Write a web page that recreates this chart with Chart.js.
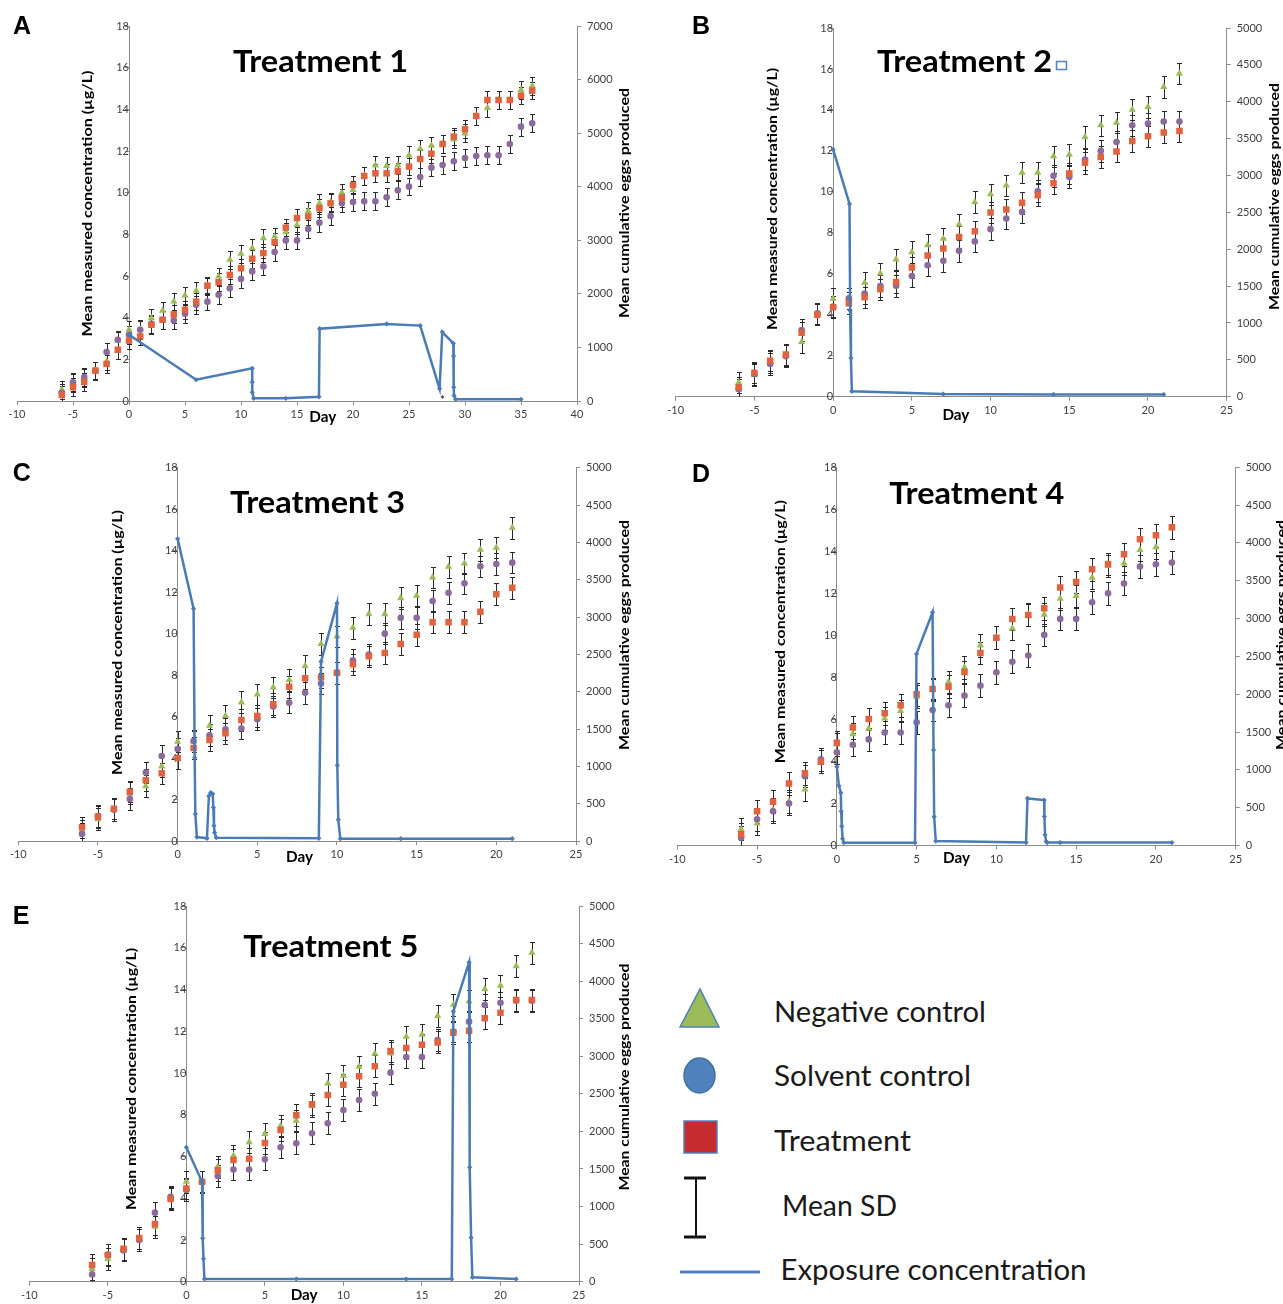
<!DOCTYPE html>
<html><head><meta charset="utf-8">
<script src="https://cdn.jsdelivr.net/npm/chart.js@4.4.1/dist/chart.umd.min.js"></script>
<style>
html,body{margin:0;padding:0;background:#fff;}
body{width:1283px;height:1304px;position:relative;overflow:hidden;font-family:Lato,sans-serif;}
.pan{position:absolute;}
#legend{position:absolute;left:640px;top:960px;}
</style></head>
<body>
<canvas id="cA" class="pan"></canvas>
<canvas id="cB" class="pan"></canvas>
<canvas id="cC" class="pan"></canvas>
<canvas id="cD" class="pan"></canvas>
<canvas id="cE" class="pan"></canvas>
<svg id="legend" width="643" height="344" xmlns="http://www.w3.org/2000/svg">
  <polygon points="40,67 60,29 79,67" fill="#9bbb59" stroke="#4f81bd" stroke-width="1.5"/>
  <ellipse cx="59.5" cy="115.5" rx="15.5" ry="17.5" fill="#4f81bd" stroke="#41719c" stroke-width="1.5"/>
  <rect x="44" y="161" width="33" height="32" fill="#c62b2f" stroke="#4f81bd" stroke-width="1.5"/>
  <line x1="56" y1="218" x2="56" y2="277" stroke="#111" stroke-width="2"/>
  <line x1="44" y1="218" x2="66" y2="218" stroke="#111" stroke-width="3"/>
  <line x1="44" y1="277" x2="66" y2="277" stroke="#111" stroke-width="3"/>
  <line x1="40" y1="312" x2="120" y2="312" stroke="#4f81bd" stroke-width="3"/>
  <g font-family="Lato" font-size="28" fill="#1a1a1a">
    <text x="134" y="62" textLength="212" lengthAdjust="spacingAndGlyphs">Negative control</text>
    <text x="134" y="126" textLength="197" lengthAdjust="spacingAndGlyphs">Solvent control</text>
    <text x="134" y="191" textLength="137" lengthAdjust="spacingAndGlyphs">Treatment</text>
    <text x="142" y="256" textLength="115" lengthAdjust="spacingAndGlyphs">Mean SD</text>
    <text x="140.5" y="320" textLength="306" lengthAdjust="spacingAndGlyphs">Exposure concentration</text>
  </g>
</svg>
<script>
// ---------------- DATA ----------------
const xTicksA = [-10,-5,0,5,10,15,20,25,30,35,40];
const xTicksBE = [-10,-5,0,5,10,15,20,25];

const daysA = [-6,-5,-4,-3,-2,-1,0,1,2,3,4,5,6,7,8,9,10,11,12,13,14,15,16,17,18,19,20,21,22,23,24,25,26,27,28,29,30,31,32,33,34,35,36];
const negA = [210,330,430,565,740,1130,1330,1340,1548,1688,1859,1972,2061,2139,2326,2637,2749,2855,3041,3072,3150,3286,3547,3690,3720,3889,3939,4200,4400,4387,4400,4586,4711,4767,4800,4885,4997,5320,5470,5620,5620,5806,5880];
const solA = [155,350,447,565,914,1143,1237,1330,1440,1517,1505,1630,1797,1855,1983,2104,2279,2419,2512,2781,2998,2998,3212,3329,3454,3690,3715,3727,3727,3802,3933,4001,4182,4356,4406,4474,4536,4574,4586,4586,4798,5121,5184];
const trtA = [113,257,354,568,692,957,1128,1206,1423,1517,1618,1703,1855,2154,2217,2353,2477,2656,2761,2963,3236,3415,3446,3597,3690,3790,4032,4200,4250,4250,4287,4375,4518,4617,4798,4935,5072,5320,5619,5619,5619,5700,5793];
const expDaysA = [0,6,11,11.0,11.01,11.13,14,16.96,17.02,23,26,27.73,27.97,28.96,28.98,29.0,29.02,29.16,35];
const expConcA = [3.18,1.02,1.57,0.9,0.42,0.13,0.13,0.2,3.47,3.70,3.62,0.59,3.31,2.77,2.16,0.66,0.26,0.08,0.08];
const sdA = 165;

const daysB = [-6,-5,-4,-3,-2,-1,0,1,2,3,4,5,6,7,8,9,10,11,12,13,14,15,16,17,18,19,20,21,22];
const negB = [194,294,472,556,744,1125,1328,1333,1545,1672,1861,1961,2056,2142,2336,2639,2746,2864,3040,3040,3261,3284,3523,3681,3717,3893,3930,4201,4381];
const solB = [100,306,444,550,903,1131,1222,1333,1400,1500,1503,1636,1783,1842,1978,2106,2272,2416,2507,2787,2995,2981,3216,3333,3455,3681,3704,3731,3731];
const trtB = [128,325,489,572,867,1111,1214,1269,1347,1456,1556,1753,1914,2011,2167,2244,2498,2538,2629,2733,2895,3026,3171,3252,3324,3469,3532,3582,3604];
const expDaysB = [0,1.04,1.08,1.13,1.19,7,14,21];
const expConcB = [12.07,9.41,4.2,1.89,0.26,0.13,0.11,0.11];
const sdB = 145;

const daysC = [-6,-5,-4,-3,-2,-1,0,1,2,3,4,5,6,7,8,9,10,11,12,13,14,15,16,17,18,19,20,21];
const negC = [139,292,417,639,736,1000,1331,1333,1545,1675,1858,1964,2058,2158,2345,2639,2741,2857,3040,3040,3254,3286,3531,3674,3719,3902,3929,4196];
const solC = [94,333,417,564,917,1139,1233,1339,1417,1497,1506,1631,1800,1853,1986,2108,2250,2420,2496,2777,2991,2991,3214,3326,3451,3679,3710,3728];
const trtC = [183,325,433,661,814,906,1111,1247,1353,1442,1622,1675,1831,2067,2181,2192,2254,2366,2473,2518,2638,2763,2929,2929,2929,3071,3304,3393];
const expDaysC = [0,1.0,1.07,1.11,1.21,1.84,1.96,2.07,2.2,2.24,2.28,2.32,2.42,8.86,9.0,10.0,10.02,10.08,10.21,14,21];
const expConcC = [14.57,11.2,4.02,1.3,0.19,0.13,2.17,2.33,2.27,1.62,0.74,0.4,0.16,0.13,8.65,11.46,3.65,1.03,0.11,0.11,0.11];
const sdC = 145;

const daysD = [-6,-5,-4,-3,-2,-1,0,1,2,3,4,5,6,7,8,9,10,11,12,13,14,15,16,17,18,19,20,21];
const negD = [217,292,472,583,742,1111,1336,1472,1544,1681,1778,1967,2056,2162,2356,2647,2750,2871,3050,3053,3264,3300,3542,3696,3731,3907,3943,4200];
const solD = [103,347,453,556,917,1139,1233,1331,1403,1494,1494,1629,1791,1854,1981,2113,2290,2430,2511,2784,2996,2996,3216,3335,3463,3687,3718,3740];
const trtD = [150,453,578,819,956,1106,1358,1561,1672,1747,1853,1999,2069,2099,2294,2545,2747,2994,3048,3137,3410,3485,3652,3722,3850,4048,4101,4207];
const expDaysD = [0,0.13,0.25,0.27,0.31,0.36,0.44,4.9,4.99,6.0,6.06,6.1,6.2,11.86,11.95,12.99,13.01,13.05,13.12,13.18,14,21];
const expConcD = [3.75,2.84,2.51,1.63,0.92,0.32,0.13,0.13,9.11,11.1,4.54,1.37,0.21,0.14,2.24,2.16,1.38,0.51,0.19,0.14,0.14,0.14];
const sdD = 150;

const daysE = [-6,-5,-4,-3,-2,-1,0,1,2,3,4,5,6,7,8,9,10,11,12,13,14,15,16,17,18,19,20,21,22];
const negE = [170,303,417,556,733,1111,1331,1333,1531,1678,1858,1967,2072,2144,2339,2639,2742,2862,3035,3039,3261,3288,3536,3687,3731,3895,3940,4201,4379];
const solE = [97,361,417,556,919,1131,1222,1333,1406,1494,1494,1628,1789,1842,1975,2108,2285,2418,2502,2782,2990,2990,3216,3330,3461,3682,3713,3740,3740];
const trtE = [222,356,439,581,767,1100,1239,1331,1483,1619,1636,1847,2019,2214,2361,2486,2622,2733,2866,3070,3110,3154,3185,3314,3341,3505,3580,3749,3749];
const expDaysE = [0,1.0,1.04,1.09,1.15,7,14,16.9,17.0,18.0,18.04,18.13,18.21,21];
const expConcE = [6.44,4.79,2.08,1.1,0.13,0.13,0.13,0.13,12.95,15.3,5.48,2.11,0.21,0.13];
const sdE = 145;

const concTicks = [0,2,4,6,8,10,12,14,16,18];
const eggTicksA = [0,1000,2000,3000,4000,5000,6000,7000];
const eggTicksBE = [0,500,1000,1500,2000,2500,3000,3500,4000,4500,5000];

const leftTitle = 'Mean measured concentration (\u00b5g/L)';
const rightTitle = 'Mean cumulative eggs produced';

// ---------------- LAYOUT ----------------
const panels = [
  {id:'cA', left:0, top:0, w:640, h:430, ca:{l:17,t:26,r:577,b:401}, xt:xTicksA, et:eggTicksA,
   days:daysA, neg:negA, sol:solA, trt:trtA, ex:expDaysA, ey:expConcA, sd:sdA,
   letter:'A', lx:13, ly:34, title:'Treatment 1', tx:233, ty:72,
   ltx:87, lty:203.5, ltl:266, rtx:624, rty:203, rtl:230, dayX:17.3, dayY:417, star:true},
  {id:'cB', left:640, top:0, w:643, h:430, ca:{l:35.7,t:28,r:586.7,b:396.7}, xt:xTicksBE, et:eggTicksBE,
   days:daysB, neg:negB, sol:solB, trt:trtB, ex:expDaysB, ey:expConcB, sd:sdB,
   letter:'B', lx:692, ly:34.3, title:'Treatment 2', tx:877, ty:71.7,
   ltx:772.3, lty:199, ltl:262, rtx:1274, rty:196.5, rtl:227, dayX:7.8, dayY:415, box:true},
  {id:'cC', left:0, top:430, w:640, h:440, ca:{l:18.3,t:37.7,r:576,b:411}, xt:xTicksBE, et:eggTicksBE,
   days:daysC, neg:negC, sol:solC, trt:trtC, ex:expDaysC, ey:expConcC, sd:sdC,
   letter:'C', lx:12.7, ly:481, title:'Treatment 3', tx:230, ty:512.7,
   ltx:117, lty:642.5, ltl:265, rtx:624, rty:635, rtl:230, dayX:7.65, dayY:856.7},
  {id:'cD', left:640, top:430, w:643, h:440, ca:{l:37.3,t:37.3,r:595.7,b:415.5}, xt:xTicksBE, et:eggTicksBE,
   days:daysD, neg:negD, sol:solD, trt:trtD, ex:expDaysD, ey:expConcD, sd:sdD,
   letter:'D', lx:692, ly:481.7, title:'Treatment 4', tx:889.3, ty:504,
   ltx:780.3, lty:631.7, ltl:263, rtx:1281, rty:635, rtl:230, dayX:7.5, dayY:858},
  {id:'cE', left:0, top:870, w:640, h:434, ca:{l:29.3,t:36,r:579,b:411.7}, xt:xTicksBE, et:eggTicksBE,
   days:daysE, neg:negE, sol:solE, trt:trtE, ex:expDaysE, ey:expConcE, sd:sdE,
   letter:'E', lx:12.7, ly:924, title:'Treatment 5', tx:243.3, ty:956.7,
   ltx:131.7, lty:1079, ltl:262, rtx:624, rty:1077, rtl:227, dayX:7.5, dayY:1295}
];

const AXIS = '#8c8c8c', TICK = '#404040';
const tickFont = {family:'Lato', size:11};

function fitText(ctx, text, x, y, width, font, align, baseline, rot) {
  ctx.save();
  ctx.font = font;
  const w = ctx.measureText(text).width;
  ctx.translate(x, y);
  if (rot) ctx.rotate(rot);
  ctx.scale(width / w, 1);
  ctx.textAlign = align;
  ctx.textBaseline = baseline;
  ctx.fillStyle = '#000';
  ctx.fillText(text, 0, 0);
  ctx.restore();
}

const errorBars = {
  id:'errorBars',
  beforeDatasetsDraw(chart) {
    const ctx = chart.ctx, xs = chart.scales.x, ys = chart.scales.y2, ca = chart.chartArea;
    ctx.save();
    ctx.beginPath();
    ctx.rect(ca.left, ca.top - 5, ca.right - ca.left, ca.bottom - ca.top + 5);
    ctx.clip();
    ctx.strokeStyle = '#2a2a2a';
    ctx.lineWidth = 1;
    chart.data.datasets.forEach(ds => {
      if (!ds.errorBar) return;
      ds.data.forEach(pt => {
        const px = Math.round(xs.getPixelForValue(pt.x)) + 0.5;
        const yt = Math.round(ys.getPixelForValue(pt.y + ds.errorBar)) + 0.5;
        const yb = Math.round(ys.getPixelForValue(pt.y - ds.errorBar)) + 0.5;
        ctx.beginPath();
        ctx.moveTo(px, yt); ctx.lineTo(px, yb);
        ctx.moveTo(px - 2.5, yt); ctx.lineTo(px + 2.5, yt);
        ctx.moveTo(px - 2.5, yb); ctx.lineTo(px + 2.5, yb);
        ctx.stroke();
      });
    });
    ctx.restore();
  }
};

const texts = {
  id:'texts',
  afterDraw(chart) {
    const p = chart.options.plugins.texts.panel;
    const ctx = chart.ctx, ox = p.left, oy = p.top;
    ctx.save();
    ctx.font = 'bold 25px "Liberation Sans", Arial, sans-serif';
    ctx.fillStyle = '#000';
    ctx.textBaseline = 'alphabetic';
    ctx.fillText(p.letter, p.lx - ox, p.ly - oy);
    ctx.restore();
    fitText(ctx, p.title, p.tx - ox, p.ty - oy, 175, 'bold 31px Lato', 'left', 'alphabetic', 0);
    fitText(ctx, leftTitle, p.ltx - ox, p.lty - oy, p.ltl, 'bold 14px Lato', 'center', 'middle', -Math.PI / 2);
    fitText(ctx, rightTitle, p.rtx - ox, p.rty - oy, p.rtl, 'bold 14px Lato', 'center', 'middle', -Math.PI / 2);
    const dx = chart.scales.x.getPixelForValue(p.dayX);
    fitText(ctx, 'Day', dx, p.dayY - oy, 27, 'bold 15px Lato', 'center', 'middle', 0);
    if (p.star) {
      ctx.save();
      ctx.font = '12px Lato';
      ctx.fillStyle = '#000';
      ctx.textAlign = 'center';
      ctx.fillText('*', chart.scales.x.getPixelForValue(28), 404 - oy);
      ctx.restore();
    }
    if (p.box) {
      ctx.save();
      ctx.strokeStyle = '#4f81bd';
      ctx.lineWidth = 1.5;
      ctx.strokeRect(1056.5 - ox, 61.5 - oy, 10, 8);
      ctx.restore();
    }
  }
};

function axisCommon(ticks) {
  return {
    type:'linear',
    afterBuildTicks(scale) { scale.ticks = ticks.map(v => ({value:v})); },
    ticks:{color:TICK, font:tickFont, autoSkip:false, maxRotation:0, minRotation:0,
           callback:(v) => String(v)},
    grid:{display:true, drawOnChartArea:false, drawTicks:true, tickLength:4, color:AXIS},
    border:{display:true, color:AXIS, width:1}
  };
}

panels.forEach(p => {
  const cv = document.getElementById(p.id);
  cv.width = p.w; cv.height = p.h;
  cv.style.left = p.left + 'px'; cv.style.top = p.top + 'px';
  cv.style.width = p.w + 'px'; cv.style.height = p.h + 'px';

  const xAxis = axisCommon(p.xt);
  Object.assign(xAxis, {position:'bottom', min:-10, max:p.xt[p.xt.length - 1],
    afterFit(s) { s.height = p.h - p.ca.b; }});
  xAxis.ticks.padding = 3;

  const yAxis = axisCommon(concTicks);
  Object.assign(yAxis, {position:{x:0}, min:0, max:18});
  yAxis.ticks.padding = 5;

  const y2Axis = axisCommon(p.et);
  Object.assign(y2Axis, {position:'right', min:0, max:p.et[p.et.length - 1],
    afterFit(s) { s.width = p.w - p.ca.r; }});
  y2Axis.ticks.padding = 6;

  new Chart(cv, {
    type:'scatter',
    data:{datasets:[
      {label:'Exposure concentration', yAxisID:'y', showLine:true,
       data:p.ex.map((x, i) => ({x:x, y:p.ey[i]})),
       borderColor:'#4b7bb5', borderWidth:2.5, tension:0,
       pointStyle:'rectRot', pointRadius:2.6, pointBackgroundColor:'#4b7bb5', pointBorderWidth:0},
      {label:'Treatment', yAxisID:'y2', errorBar:p.sd,
       data:p.days.map((d, i) => ({x:d, y:p.trt[i]})),
       pointStyle:'rect', pointRadius:4.6, backgroundColor:'#e0623f', borderColor:'#e0623f', borderWidth:0},
      {label:'Solvent control', yAxisID:'y2', errorBar:p.sd,
       data:p.days.map((d, i) => ({x:d, y:p.sol[i]})),
       pointStyle:'circle', pointRadius:3.3, backgroundColor:'#8b6a9c', borderColor:'#8b6a9c', borderWidth:0},
      {label:'Negative control', yAxisID:'y2', errorBar:p.sd,
       data:p.days.map((d, i) => ({x:d, y:p.neg[i]})),
       pointStyle:'triangle', pointRadius:4.2, backgroundColor:'#9bbb59', borderColor:'#9bbb59', borderWidth:0}
    ]},
    options:{
      responsive:false, animation:false, devicePixelRatio:1,
      layout:{padding:{left:p.ca.l, top:p.ca.t, right:0, bottom:0}},
      scales:{x:xAxis, y:yAxis, y2:y2Axis},
      plugins:{legend:{display:false}, tooltip:{enabled:false}, texts:{panel:p}},
      elements:{point:{hoverRadius:0}}
    },
    plugins:[errorBars, texts]
  });
});
</script>
</body></html>
